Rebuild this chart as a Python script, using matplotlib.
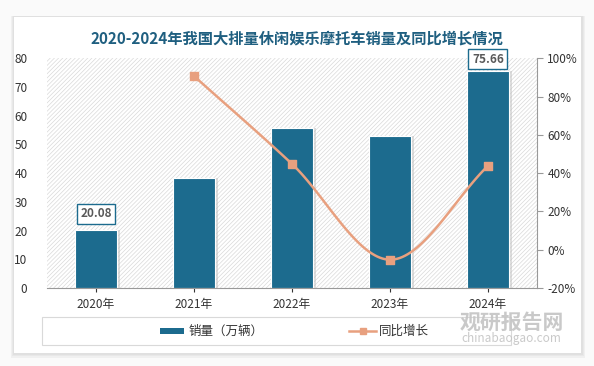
import numpy as np
import matplotlib.pyplot as plt
from matplotlib.patches import Rectangle

plt.rcParams['font.family'] = ['Noto Sans CJK SC', 'DejaVu Sans']
plt.rcParams['hatch.linewidth'] = 0.5

# Datos
anios = ['2020年', '2021年', '2022年', '2023年', '2024年']
ventas = [20.08, 38.3, 55.7, 52.9, 75.66]
crecimiento = [None, 90.7, 44.8, -5.2, 43.8]

color_barra = '#1c6b8e'
color_linea = '#e8a07f'
color_titulo = '#1f5f80'

fig = plt.figure(figsize=(5.94, 3.66), dpi=100)
fig.patch.set_facecolor('#fafafa')

# tarjeta blanca con sombra
for i, c in enumerate(['#f0f0f0', '#e8e8e8', '#e0e0e0']):
    d = (3 - i) * 0.004
    fig.add_artist(Rectangle((0.024 - d / 2, 0.035 - d), 0.955 + d, 0.92 + d * 1.2,
                             transform=fig.transFigure, facecolor=c, edgecolor='none', zorder=0))
fig.add_artist(Rectangle((0.024, 0.036), 0.954, 0.918, transform=fig.transFigure,
                         facecolor='white', edgecolor='none', zorder=0))

ax = fig.add_axes([0.079, 0.213, 0.825, 0.628])
ax.set_facecolor('white')
ax.add_patch(Rectangle((0, 0), 1, 1, transform=ax.transAxes, facecolor='white',
                       edgecolor='#d9d9d9', linewidth=0, hatch='////////', zorder=0))

x = np.arange(len(anios))
ax.bar(x + 0.03, ventas, width=0.43, color='#bdbdbd', alpha=0.5, zorder=1)
ax.bar(x, ventas, width=0.43, color=color_barra, edgecolor='white', linewidth=0.8, zorder=2)

ax.set_xlim(-0.5, 4.5)
ax.set_ylim(0, 80)
ax.set_yticks(range(0, 81, 10))
ax.set_xticks(x)
ax.set_xticklabels(anios)
ax.tick_params(axis='y', length=0, labelsize=8.5, colors='#333333', pad=14)
ax.tick_params(axis='x', length=3, labelsize=8.5, colors='#333333', pad=4)
ax.tick_params(axis='x', color='#333333')
for s in ['top', 'left', 'right']:
    ax.spines[s].set_visible(False)
ax.spines['bottom'].set_color('#999999')

for i, off in [(0, 5.8), (4, 3.9)]:
    ax.text(x[i], ventas[i] + off, f'{ventas[i]:.2f}', ha='center', va='center',
            fontsize=8.5, fontweight='bold', color='#595959', zorder=5,
            bbox=dict(boxstyle='square,pad=0.3', facecolor='white', edgecolor=color_barra, linewidth=1))

# eje derecho
ax2 = ax.twinx()
ax2.set_ylim(-20, 100)
ax2.set_yticks(range(-20, 101, 20))
ax2.set_yticklabels([f'{v}%' for v in range(-20, 101, 20)])
ax2.tick_params(axis='y', length=4, labelsize=8.5, colors='#333333', color='#999999')
for s in ['top', 'left', 'bottom']:
    ax2.spines[s].set_visible(False)
ax2.spines['right'].set_color('#999999')

# linea suavizada (Catmull-Rom) a partir de los puntos
px = np.array(x[1:], dtype=float)
py = np.array(crecimiento[1:], dtype=float)
P = np.column_stack([px, py])
P = np.vstack([P[0] - (P[1] - P[0]), P, P[-1] + (P[-1] - P[-2])])
curva = []
for k in range(1, len(P) - 2):
    p0, p1, p2, p3 = P[k - 1], P[k], P[k + 1], P[k + 2]
    for t in np.linspace(0, 1, 40):
        c = 0.5 * ((2 * p1) + (-p0 + p2) * t + (2 * p0 - 5 * p1 + 4 * p2 - p3) * t ** 2
                   + (-p0 + 3 * p1 - 3 * p2 + p3) * t ** 3)
        curva.append(c)
curva = np.array(curva)
ax2.plot(curva[:, 0], curva[:, 1], color=color_linea, linewidth=1.8, zorder=3)
ax2.scatter(px, py, marker='s', s=30, color=color_linea, zorder=4)

fig.text(0.5, 0.895, '2020-2024年我国大排量休闲娱乐摩托车销量及同比增长情况', ha='center', va='center',
         fontsize=11, fontweight='bold', color=color_titulo)

# leyenda
fig.add_artist(Rectangle((0.07, 0.057), 0.79, 0.078, transform=fig.transFigure,
                         facecolor='white', edgecolor='#d9d9d9', linewidth=0.8, zorder=1))
fig.add_artist(Rectangle((0.27, 0.087), 0.04, 0.018, transform=fig.transFigure,
                         facecolor=color_barra, edgecolor='none', zorder=2))
fig.text(0.317, 0.096, '销量（万辆）', ha='left', va='center', fontsize=9, color='#333333')
fig.add_artist(plt.Line2D([0.588, 0.633], [0.096, 0.096], transform=fig.transFigure,
                          color=color_linea, linewidth=1.8, zorder=2))
fig.add_artist(plt.Line2D([0.6105], [0.096], transform=fig.transFigure, marker='s',
                          markersize=5, color=color_linea, zorder=2))
fig.text(0.638, 0.096, '同比增长', ha='left', va='center', fontsize=9, color='#333333')

# marca de agua
fig.text(0.861, 0.12, '观研报告网', ha='center', va='center', fontsize=15, fontweight='bold',
         color='#c4c4c4', alpha=0.9, zorder=3)
fig.text(0.861, 0.075, 'chinabaogao.com', ha='center', va='center', fontsize=8.5,
         color='#c4c4c4', alpha=0.9, zorder=3)

fig.savefig('out.png', dpi=100)
